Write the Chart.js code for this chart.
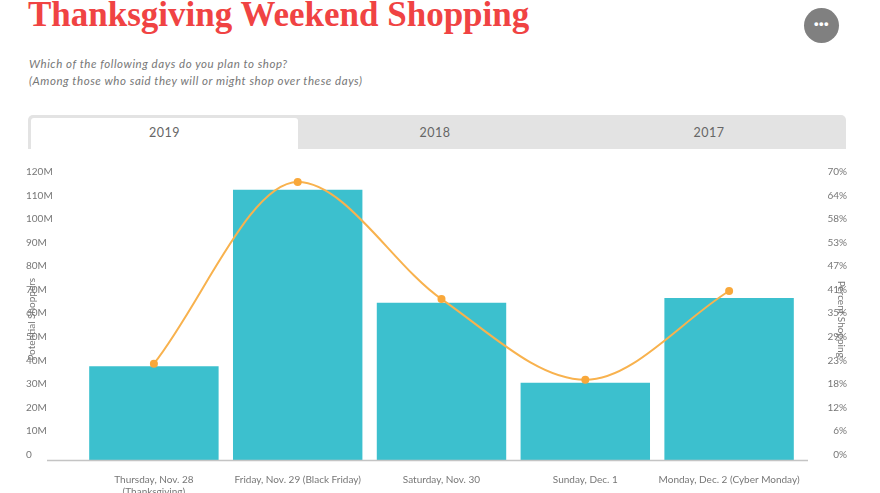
<!DOCTYPE html>
<html>
<head>
<meta charset="utf-8">
<script src="https://cdn.jsdelivr.net/npm/chart.js@4"></script>
<style>
  html, body { margin: 0; padding: 0; background: #fff; overflow: hidden; }
  body { width: 880px; height: 493px; position: relative; font-family: "Lato", sans-serif; color: #666; }
  h1 { position: absolute; left: 28px; top: -5px; margin: 0; font: bold 35px "Liberation Serif", serif; color: #f04343; white-space: nowrap; }
  .sub { position: absolute; left: 29px; font-size: 11.5px; font-style: italic; letter-spacing: .55px; color: #777; white-space: nowrap; }
  .menu { position: absolute; left: 804px; top: 8px; width: 35px; height: 35px; border-radius: 50%; background: #808080; color: #fff; font: bold 13px/31px "Liberation Sans", sans-serif; text-align: center; letter-spacing: .5px; }
  .tabs { position: absolute; left: 28px; top: 115px; width: 818px; height: 34px; background: #e3e3e3; border-radius: 5px 5px 0 0; }
  .tab { position: absolute; top: 3px; height: 31px; line-height: 29px; font-size: 12.5px; letter-spacing: .5px; text-align: center; color: #666; }
  .tab.on { background: #fff; border-radius: 3px 3px 0 0; }
  #wrap { position: absolute; left: 0; top: 150px; width: 880px; height: 343px; }
</style>
</head>
<body>
<h1>Thanksgiving Weekend Shopping</h1>
<div class="sub" style="top:57px">Which of the following days do you plan to shop?</div>
<div class="sub" style="top:74px">(Among those who said they will or might shop over these days)</div>
<div class="menu">•••</div>
<div class="tabs">
  <div class="tab on" style="left:3px;width:267px">2019</div>
  <div class="tab" style="left:270px;width:274px">2018</div>
  <div class="tab" style="left:544px;width:274px">2017</div>
</div>
<div id="wrap"><canvas id="chart" width="880" height="343"></canvas></div>
<script>
const days = [
  ["Thursday, Nov. 28", "(Thanksgiving)"],
  "Friday, Nov. 29 (Black Friday)",
  "Saturday, Nov. 30",
  "Sunday, Dec. 1",
  "Monday, Dec. 2 (Cyber Monday)"
];
const shoppers = [40, 115, 67, 33, 69];
const percentShopping = [24, 69, 40, 20, 42];

const tickFont = { family: "Lato", size: 10 };
const tickColor = "#777";

// axis line runs under both sets of tick labels
const baseline = {
  id: "baseline",
  afterDatasetsDraw(chart) {
    const ctx = chart.ctx;
    const y = chart.scales.y.getPixelForValue(0);
    ctx.save();
    ctx.strokeStyle = "#c4c4c4";
    ctx.lineWidth = 1.5;
    ctx.beginPath();
    ctx.moveTo(47, y);
    ctx.lineTo(808, y);
    ctx.stroke();
    ctx.restore();
  }
};

new Chart(document.getElementById("chart").getContext("2d"), {
  data: {
    labels: days,
    datasets: [
      {
        type: "line",
        data: percentShopping,
        yAxisID: "y2",
        order: 0,
        borderColor: "#f8b24e",
        borderWidth: 2,
        cubicInterpolationMode: "monotone",
        pointRadius: 4,
        pointBackgroundColor: "#f9a83a",
        pointBorderColor: "#f9a83a",
        pointBorderWidth: 0
      },
      {
        type: "bar",
        data: shoppers,
        yAxisID: "y",
        order: 1,
        backgroundColor: "#3cc0ce",
        categoryPercentage: 0.9,
        barPercentage: 1
      }
    ]
  },
  options: {
    responsive: false,
    animation: false,
    layout: { padding: { top: 28, left: 26, right: 33, bottom: 0 } },
    plugins: { legend: { display: false }, tooltip: { enabled: false } },
    scales: {
      x: {
        grid: { display: false },
        border: { display: false },
        afterFit: s => { s.height = 32.5; },
        ticks: { font: { family: "Lato", size: 10 }, color: tickColor, maxRotation: 0, autoSkip: false, padding: 5 }
      },
      y: {
        position: "left",
        min: 0,
        max: 120,
        grid: { display: false },
        border: { display: false },
        afterFit: s => { s.width = 56; },
        title: { display: true, text: "Potential Shoppers", font: tickFont, color: tickColor, padding: 0 },
        ticks: {
          stepSize: 10,
          font: tickFont,
          color: tickColor,
          crossAlign: "far",
          labelOffset: -6,
          callback: v => (v === 0 ? "0" : v + "M")
        }
      },
      y2: {
        position: "right",
        min: 0,
        max: 70,
        grid: { display: false },
        border: { display: false },
        afterFit: s => { s.width = 46; },
        title: { display: true, text: "Percent Shopping", font: tickFont, color: tickColor, padding: 0 },
        ticks: {
          count: 13,
          font: tickFont,
          color: tickColor,
          crossAlign: "far",
          labelOffset: -6,
          callback: v => Math.round(v) + "%"
        }
      }
    }
  },
  plugins: [baseline]
});
</script>
</body>
</html>
